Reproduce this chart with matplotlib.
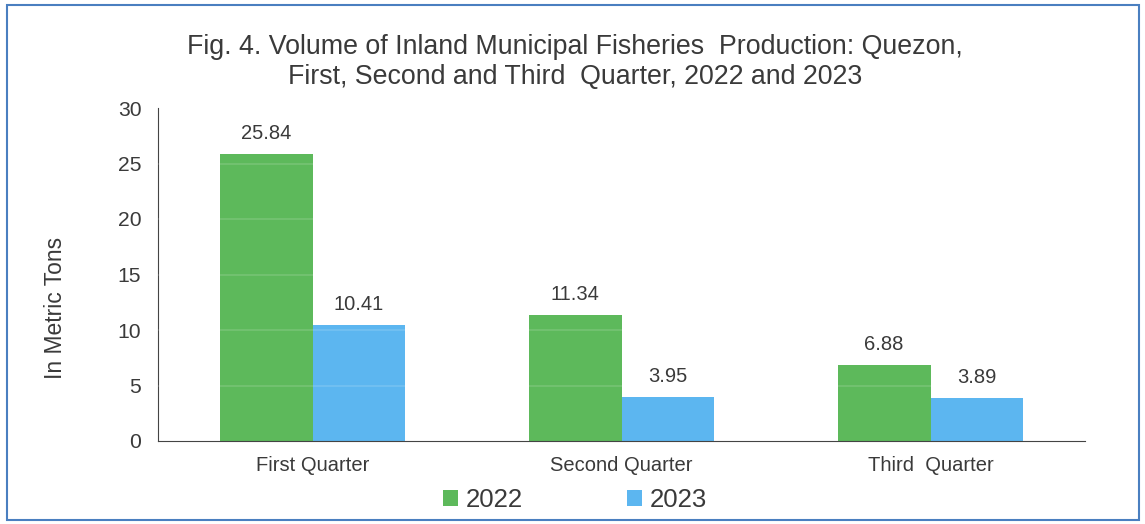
import matplotlib
matplotlib.use("Agg")
import matplotlib.pyplot as plt
import numpy as np
from matplotlib.patches import Rectangle

categories = ["First Quarter", "Second Quarter", "Third  Quarter"]
series_names = ["2022", "2023"]
values_2022 = [25.84, 11.34, 6.88]
values_2023 = [10.41, 3.95, 3.89]
yticks = [0, 5, 10, 15, 20, 25, 30]
title = "Fig. 4. Volume of Inland Municipal Fisheries  Production: Quezon,\nFirst, Second and Third  Quarter, 2022 and 2023"

plt.rcParams['font.family'] = ['Liberation Sans', 'DejaVu Sans']
green = "#5db95b"
blue = "#5cb6f0"
text_col = "#3a3a3a"

fig = plt.figure(figsize=(11.45, 5.24), dpi=100)
fig.patch.set_facecolor("white")
fig.patches.append(Rectangle((7/1145, 4/524), 1132/1145, 515/524, transform=fig.transFigure,
                             fill=False, edgecolor="#4a7fc0", linewidth=1.5))

ax = fig.add_axes([158/1145, 1-441/524, (1085-158)/1145, (441-108)/524])
x = np.arange(len(categories))
w = 0.3
b1 = ax.bar(x - w/2, values_2022, w, color=green, label=series_names[0], zorder=2)
b2 = ax.bar(x + w/2, values_2023, w, color=blue, label=series_names[1], zorder=2)
for bars, vals in ((b1, values_2022), (b2, values_2023)):
    for r, v in zip(bars, vals):
        ax.annotate(f"{v:.2f}", (r.get_x() + r.get_width()/2, v), xytext=(0, 8),
                    textcoords="offset points", ha="center", va="bottom",
                    fontsize=14.5, color=text_col)
for t in yticks[1:-1]:
    ax.axhline(t, color="white", alpha=0.15, linewidth=1.2, zorder=3)

ax.set_xlim(-0.5, 2.5)
ax.set_ylim(0, 30)
ax.set_yticks(yticks)
ax.set_xticks(x)
ax.set_xticklabels(categories, fontsize=14.5, color=text_col)
ax.tick_params(axis='y', labelsize=15.2, colors=text_col, length=0, pad=12)
ax.tick_params(axis='x', length=0, pad=11)
for s in ("top", "right"):
    ax.spines[s].set_visible(False)
ax.spines["left"].set_color("#444444")
ax.spines["bottom"].set_color("#444444")
ax.set_ylabel("In Metric Tons", fontsize=16.5, color=text_col, va="center")
ax.yaxis.set_label_coords(-0.111, 0.40)

fig.text(575/1145, 1-62/524, title, ha="center", va="center", fontsize=19.3,
         color=text_col, linespacing=1.2)

leg = fig.legend(handles=[b1, b2], labels=series_names, loc="center",
                 bbox_to_anchor=(575/1145, 1-500/524), ncol=2, frameon=False,
                 fontsize=18.5, handlelength=0.6, handleheight=0.6, columnspacing=4.05,
                 handletextpad=0.3)
for t in leg.get_texts():
    t.set_color(text_col)

fig.savefig("out.png", dpi=100, facecolor="white")
